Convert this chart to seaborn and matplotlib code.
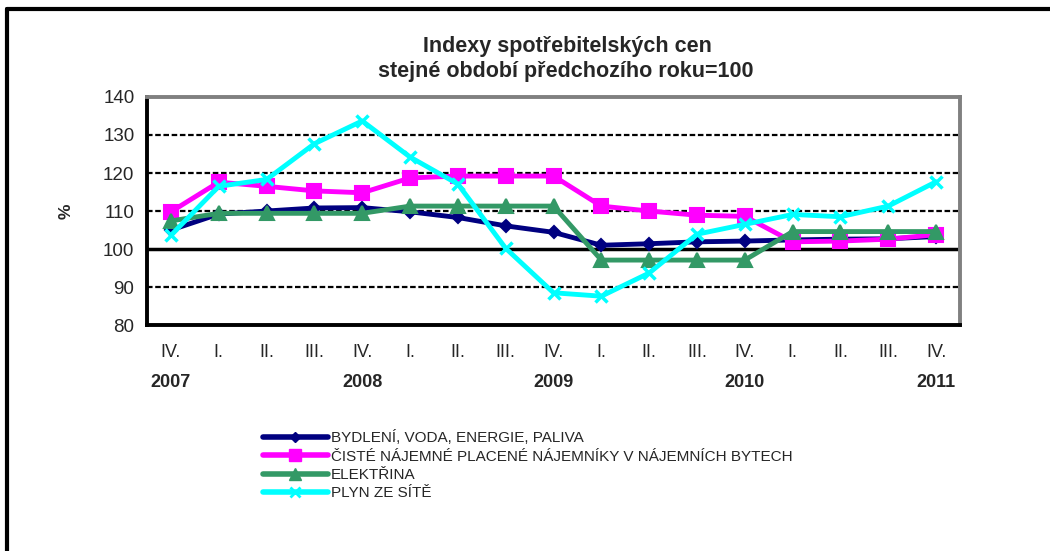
import pandas as pd
import numpy as np
import matplotlib.pyplot as plt
import seaborn as sns
from matplotlib.lines import Line2D

# Data
quarters = ['IV.', 'I.', 'II.', 'III.', 'IV.', 'I.', 'II.', 'III.', 'IV.',
            'I.', 'II.', 'III.', 'IV.', 'I.', 'II.', 'III.', 'IV.']
years = {0: '2007', 4: '2008', 8: '2009', 12: '2010', 16: '2011'}

bydleni = [105.0, 109.2, 110.0, 110.8, 110.9, 109.8, 108.3, 106.1, 104.4,
           101.0, 101.4, 101.9, 102.1, 102.4, 102.6, 102.7, 103.3]
najemne = [109.8, 117.6, 116.5, 115.3, 114.8, 118.7, 119.2, 119.2, 119.2,
           111.3, 110.0, 108.9, 108.6, 101.9, 102.1, 102.6, 103.8]
elektrina = [107.4, 109.4, 109.4, 109.4, 109.4, 111.3, 111.3, 111.3, 111.3,
             97.1, 97.1, 97.1, 97.1, 104.6, 104.6, 104.6, 104.6]
plyn = [103.6, 116.5, 118.3, 127.7, 133.7, 124.2, 117.1, 100.2, 88.5,
        87.6, 93.7, 103.9, 106.5, 109.1, 108.5, 111.3, 117.7]

names = ['BYDLENÍ, VODA, ENERGIE, PALIVA',
         'ČISTÉ NÁJEMNÉ PLACENÉ NÁJEMNÍKY V NÁJEMNÍCH BYTECH',
         'ELEKTŘINA',
         'PLYN ZE SÍTĚ']
colors = ['#000080', '#FF00FF', '#339966', '#00FFFF']
markers = ['D', 's', '^', 'x']
msizes = [6, 10, 10, 9]

df = pd.DataFrame({'x': np.arange(len(quarters))})
for name, vals in zip(names, [bydleni, najemne, elektrina, plyn]):
    df[name] = vals
long_df = df.melt(id_vars='x', var_name='serie', value_name='index')

sns.set_style('white')
plt.rcParams['font.family'] = ['Liberation Sans', 'DejaVu Sans']
narrow = ['Liberation Sans Narrow', 'Liberation Sans', 'DejaVu Sans']

fig = plt.figure(figsize=(10.5, 5.51), dpi=100)
ax = fig.add_axes([0.14, 0.41, 0.7743, 0.414])

# grid lines
for yv in [90, 110, 120, 130]:
    ax.axhline(yv, color='black', lw=1.6, ls=(0, (2.5, 1.2)), zorder=1)
ax.axhline(100, color='black', lw=2.5, zorder=1)

for name, c, m, ms in zip(names, colors, markers, msizes):
    sub = long_df[long_df['serie'] == name]
    sns.lineplot(data=sub, x='x', y='index', color=c, lw=3.5, marker=m,
                 markersize=ms, markeredgecolor=c,
                 markeredgewidth=2.5 if m == 'x' else 1.5,
                 ax=ax, legend=False, zorder=3)

ax.set_xlim(-0.5, len(quarters) - 0.5)
ax.set_ylim(80, 140)
ax.set_yticks(range(80, 141, 10))
ax.tick_params(axis='y', labelsize=13.5, length=5, width=2, direction='out', pad=4)
ax.set_ylabel('%', fontsize=12.5, fontweight='bold', labelpad=21)

# boundary ticks on x
ax.set_xticks(np.arange(-0.5, len(quarters), 1.0))
ax.set_xticklabels([])
ax.tick_params(axis='x', length=5, width=2, direction='out')
for i, q in enumerate(quarters):
    ax.text(i, -0.085, q, transform=ax.get_xaxis_transform(), ha='center',
            va='top', fontsize=13, family=narrow)
for i, yr in years.items():
    ax.text(i, -0.215, yr, transform=ax.get_xaxis_transform(), ha='center',
            va='top', fontsize=13, fontweight='bold', family=narrow)

ax.set_xlabel('')
for s in ['left', 'bottom']:
    ax.spines[s].set_color('black')
    ax.spines[s].set_linewidth(2.8)
for s in ['right', 'top']:
    ax.spines[s].set_color('#808080')
    ax.spines[s].set_linewidth(2.8)
ax.spines['top'].set_linestyle((0, (3, 1)))

fig.text(0.54, 0.916, 'Indexy spotřebitelských cen', ha='center',
         va='center', fontsize=15.5, fontweight='bold')
fig.text(0.539, 0.871, 'stejné období předchozího roku=100', ha='center',
         va='center', fontsize=15.5, fontweight='bold')

handles = [Line2D([0], [0], color=c, lw=4, marker=m, markersize=ms * 0.8,
                  markeredgecolor=c, markeredgewidth=2 if m == 'x' else 1)
           for c, m, ms in zip(colors, markers, msizes)]
fig.legend(handles, names, loc='upper left', bbox_to_anchor=(0.245, 0.23),
           frameon=False, fontsize=11, handlelength=4.2, handletextpad=0.2,
           labelspacing=0.28, borderaxespad=0)

# outer frame (cut off at right and bottom)
fig.add_artist(Line2D([0.0067, 0.0067], [0, 0.984], color='black', lw=3,
                      transform=fig.transFigure))
fig.add_artist(Line2D([0.0067, 1.0], [0.984, 0.984], color='black', lw=3,
                      transform=fig.transFigure))

fig.savefig('out.png', dpi=100)
